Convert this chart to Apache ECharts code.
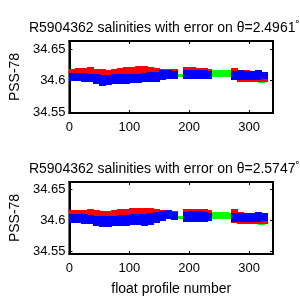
<!DOCTYPE html>
<html>
<head>
<meta charset="utf-8">
<script src="https://cdn.jsdelivr.net/npm/echarts@6/dist/echarts.min.js"></script>
</head>
<body style="margin:0">
<div id="main" style="width:300px;height:300px"></div>
<script type="text/javascript">
// profile numbers (centres of 10-profile bins) for red / blue
var profNo = [5, 15, 25, 35, 45, 55, 65, 75, 85, 95, 105, 115, 125, 135, 145, 155, 165, 175,
    195, 205, 215, 225, 232, 275, 285, 295, 305, 315, 325];
var greenNo = [5, 25, 45, 65, 85, 105, 125, 145, 165, 180, 187, 195, 215, 232, 240, 250, 260, 267, 285, 305, 320];

// top panel (theta = 2.4961)
var redLo1 = [34.608, 34.608, 34.608, 34.608, 34.608, 34.608, 34.608, 34.608, 34.608, 34.608, 34.608, 34.608, 34.608, 34.608, 34.608, 34.608, 34.608, 34.608,
    34.606, 34.606, 34.606, 34.606, 34.606, 34.600, 34.598, 34.597, 34.597, 34.598, 34.598];
var redHi1 = [34.619, 34.620, 34.620, 34.621, 34.619, 34.618, 34.617, 34.618, 34.620, 34.621, 34.622, 34.623, 34.623, 34.622, 34.620, 34.619, 34.619, 34.618,
    34.621, 34.621, 34.620, 34.620, 34.618, 34.620, 34.617, 34.616, 34.615, 34.615, 34.614];
var blueLo1 = [34.599, 34.599, 34.598, 34.597, 34.594, 34.592, 34.593, 34.594, 34.595, 34.595, 34.596, 34.596, 34.597, 34.597, 34.598, 34.601, 34.603, 34.603,
    34.602, 34.602, 34.602, 34.602, 34.603, 34.600, 34.601, 34.600, 34.601, 34.601, 34.602];
var blueHi1 = [34.612, 34.612, 34.612, 34.611, 34.610, 34.609, 34.609, 34.610, 34.611, 34.611, 34.611, 34.611, 34.612, 34.613, 34.614, 34.616, 34.617, 34.615,
    34.617, 34.617, 34.617, 34.617, 34.615, 34.615, 34.616, 34.615, 34.615, 34.616, 34.614];
var greenLo1 = [34.603, 34.603, 34.602, 34.602, 34.603, 34.604, 34.605, 34.606, 34.606, 34.606, 34.606, 34.606, 34.606, 34.606, 34.605, 34.605, 34.605, 34.605, 34.600, 34.597, 34.596];
var greenHi1 = [34.615, 34.615, 34.614, 34.614, 34.615, 34.616, 34.617, 34.618, 34.615, 34.611, 34.611, 34.615, 34.615, 34.616, 34.617, 34.617, 34.617, 34.616, 34.612, 34.610, 34.608];

// bottom panel (theta = 2.5747)
var redLo2 = [34.604, 34.604, 34.604, 34.604, 34.604, 34.604, 34.604, 34.604, 34.604, 34.604, 34.604, 34.604, 34.604, 34.604, 34.604, 34.604, 34.604, 34.604,
    34.602, 34.602, 34.602, 34.602, 34.602, 34.595, 34.594, 34.593, 34.593, 34.594, 34.594];
var redHi2 = [34.616, 34.616, 34.616, 34.617, 34.616, 34.615, 34.615, 34.616, 34.617, 34.618, 34.619, 34.620, 34.620, 34.619, 34.617, 34.616, 34.616, 34.614,
    34.617, 34.618, 34.617, 34.617, 34.616, 34.617, 34.613, 34.612, 34.611, 34.611, 34.610];
var blueLo2 = [34.595, 34.595, 34.594, 34.593, 34.590, 34.589, 34.589, 34.590, 34.591, 34.591, 34.592, 34.592, 34.591, 34.592, 34.595, 34.599, 34.602, 34.600,
    34.597, 34.597, 34.597, 34.597, 34.598, 34.597, 34.596, 34.596, 34.597, 34.597, 34.598];
var blueHi2 = [34.609, 34.609, 34.609, 34.608, 34.607, 34.606, 34.606, 34.607, 34.608, 34.608, 34.609, 34.610, 34.610, 34.611, 34.613, 34.615, 34.616, 34.613,
    34.613, 34.614, 34.614, 34.613, 34.612, 34.612, 34.612, 34.611, 34.612, 34.613, 34.611];
var greenLo2 = [34.599, 34.599, 34.598, 34.598, 34.599, 34.600, 34.601, 34.602, 34.602, 34.601, 34.601, 34.601, 34.601, 34.601, 34.601, 34.601, 34.601, 34.601, 34.596, 34.594, 34.592];
var greenHi2 = [34.611, 34.611, 34.610, 34.610, 34.611, 34.612, 34.613, 34.614, 34.612, 34.607, 34.607, 34.611, 34.611, 34.612, 34.613, 34.613, 34.613, 34.612, 34.608, 34.606, 34.604];

var titles = ['2.4961', '2.5747'];
var yTicks = [34.55, 34.6, 34.65];
var xTicks = [0, 100, 200, 300];

function rows(xs, lo, hi) {
    return xs.map(function (x, i) { return [x, lo[i], hi[i]]; });
}

// one filled error bar per bin, snapped to whole pixels so neighbours touch
function errBar(params, api) {
    var x = api.value(0);
    var p1 = api.coord([x - 5, api.value(2)]);
    var p2 = api.coord([x + 5, api.value(1)]);
    var x0 = Math.floor(p1[0]), x1 = Math.ceil(p2[0]);
    var y0 = Math.round(p1[1]), y1 = Math.round(p2[1]);
    return {
        type: 'rect',
        shape: { x: x0, y: y0, width: x1 - x0, height: Math.max(1, y1 - y0) },
        style: { fill: api.visual('color') }
    };
}

var font = 'Liberation Sans, Arial, sans-serif';
var tops = [41, 182];
var yRange = [[34.5484, 34.6627], [34.5452, 34.6613]];

var grids = [], xAxes = [], yAxes = [], series = [], titleList = [];
var sets = [
    { red: rows(profNo, redLo1, redHi1), blue: rows(profNo, blueLo1, blueHi1), green: rows(greenNo, greenLo1, greenHi1) },
    { red: rows(profNo, redLo2, redHi2), blue: rows(profNo, blueLo2, blueHi2), green: rows(greenNo, greenLo2, greenHi2) }
];

for (var g = 0; g < 2; g++) {
    grids.push({ left: 67, top: tops[g], width: 206, height: 72, show: true, borderColor: '#000', borderWidth: 2 });
    titleList.push({
        text: '{a|R5904362 salinities with error on θ=' + titles[g] + '}{s|°}',
        left: 159, top: tops[g] - 27, textAlign: 'center',
        textStyle: {
            rich: {
                a: { fontFamily: font, fontSize: 14, color: '#000', fontWeight: 'normal' },
                s: { fontFamily: font, fontSize: 9, color: '#000', padding: [0, 0, 10, 0] }
            }
        }
    });
    var axisBase = {
        gridIndex: g, type: 'value', splitLine: { show: false },
        axisLine: { show: true, onZero: false, lineStyle: { color: '#000', width: 2 } },
        axisTick: { inside: true, length: 3, lineStyle: { color: '#000' } }
    };
    xAxes.push(Object.assign({}, axisBase, {
        position: 'bottom', min: 0, max: 340,
        axisTick: { inside: true, length: 3, lineStyle: { color: '#000' }, customValues: xTicks },
        axisLabel: { customValues: xTicks, fontFamily: font, fontSize: 13, color: '#000', margin: 8 },
        name: g === 1 ? 'float profile number' : '', nameLocation: 'middle', nameGap: 28,
        nameTextStyle: { fontFamily: font, fontSize: 14, color: '#000' }
    }));
    xAxes.push(Object.assign({}, axisBase, {
        position: 'top', min: 0, max: 340,
        axisTick: { inside: true, length: 3, lineStyle: { color: '#000' }, customValues: xTicks },
        axisLabel: { show: false }
    }));
    yAxes.push(Object.assign({}, axisBase, {
        position: 'left', min: yRange[g][0], max: yRange[g][1],
        axisTick: { inside: true, length: 3, lineStyle: { color: '#000' }, customValues: yTicks },
        axisLabel: { customValues: yTicks, fontFamily: font, fontSize: 13, color: '#000', margin: 4 },
        name: 'PSS-78', nameLocation: 'middle', nameGap: 46,
        nameTextStyle: { fontFamily: font, fontSize: 14, color: '#000' }
    }));
    yAxes.push(Object.assign({}, axisBase, {
        position: 'right', min: yRange[g][0], max: yRange[g][1],
        axisTick: { inside: true, length: 3, lineStyle: { color: '#000' }, customValues: yTicks },
        axisLabel: { show: false }
    }));
    var cols = [['green', '#00ff00'], ['red', '#ff0000'], ['blue', '#0000ff']];
    cols.forEach(function (c) {
        series.push({
            type: 'custom', xAxisIndex: g * 2, yAxisIndex: g * 2, clip: true,
            renderItem: errBar, itemStyle: { color: c[1] },
            encode: { x: 0, y: [1, 2] },
            data: sets[g][c[0]]
        });
    });
}

var myChart = echarts.init(document.getElementById('main'));
myChart.setOption({
    animation: false,
    backgroundColor: '#fff',
    title: titleList,
    grid: grids,
    xAxis: xAxes,
    yAxis: yAxes,
    series: series
});
</script>
</body>
</html>
